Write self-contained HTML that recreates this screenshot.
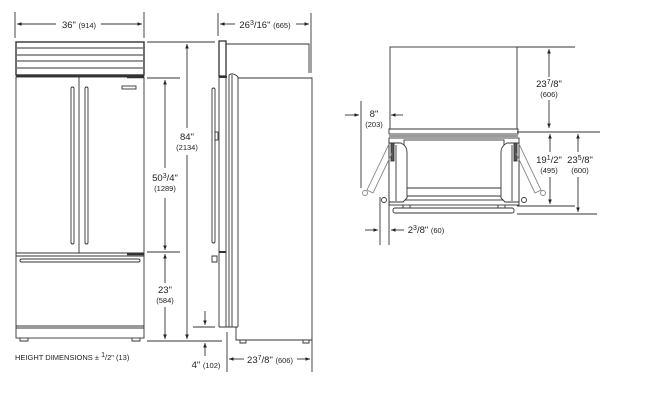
<!DOCTYPE html>
<html><head><style>
html,body{margin:0;padding:0;background:#fff;}
svg{display:block;}
text{font-family:"Liberation Sans",Arial,sans-serif;fill:#222;}
</style></head><body>
<svg width="650" height="400" viewBox="0 0 650 400" xmlns="http://www.w3.org/2000/svg">
<defs>
<marker id="a" viewBox="0 0 10 10" refX="10" refY="5" markerWidth="5" markerHeight="5" orient="auto-start-reverse"><path d="M0,1 L10,5 L0,9 z" fill="#222"/></marker>
</defs>
<g stroke="#333" stroke-width="0.9" fill="none">
<!-- FRONT VIEW -->
<line x1="15" y1="12" x2="15" y2="38"/><line x1="144" y1="12" x2="144" y2="38"/>
<line x1="17" y1="24" x2="56" y2="24" marker-start="url(#a)"/><line x1="101" y1="24" x2="142" y2="24" marker-end="url(#a)"/>
<rect x="16" y="42" width="128" height="33" stroke-width="1.4"/>
<line x1="17" y1="48" x2="143" y2="48"/><line x1="17" y1="55" x2="143" y2="55"/><line x1="17" y1="61" x2="143" y2="61"/><line x1="17" y1="68" x2="143" y2="68"/>
<line x1="16" y1="76" x2="144" y2="76" stroke-width="2"/>
<rect x="16" y="77" width="128" height="261"/>
<line x1="79" y1="77" x2="79" y2="253"/>
<line x1="16" y1="253" x2="144" y2="253"/><line x1="16" y1="256" x2="144" y2="256"/>
<line x1="127" y1="254" x2="144" y2="254" stroke-width="2.5"/>
<rect x="71" y="87" width="3" height="157" rx="1.5"/><rect x="85" y="87" width="3" height="157" rx="1.5"/>
<rect x="122" y="86" width="14" height="3"/>
<line x1="127" y1="77" x2="144" y2="77" stroke-width="2.5"/>
<rect x="20" y="259" width="120" height="3" rx="1.5"/>
<line x1="16" y1="326" x2="144" y2="326"/><line x1="16" y1="328" x2="144" y2="328"/>
<path d="M20,338 v3 h8 v-3 M132,338 v3 h8 v-3"/>
<!-- height dims -->
<line x1="147" y1="42" x2="215" y2="42"/><line x1="147" y1="78" x2="180" y2="78"/>
<line x1="147" y1="252" x2="180" y2="252"/><line x1="147" y1="341" x2="222" y2="341"/>
<line x1="187" y1="44" x2="187" y2="128" marker-start="url(#a)"/><line x1="187" y1="155" x2="187" y2="339" marker-end="url(#a)"/>
<line x1="165" y1="80" x2="165" y2="168" marker-start="url(#a)"/><line x1="165" y1="198" x2="165" y2="250" marker-end="url(#a)"/>
<line x1="165" y1="254" x2="165" y2="283" marker-start="url(#a)"/><line x1="165" y1="307" x2="165" y2="339" marker-end="url(#a)"/>
<!-- 4" -->
<line x1="193" y1="327" x2="215" y2="327"/>
<line x1="205" y1="311" x2="205" y2="325" marker-end="url(#a)"/>
<line x1="205" y1="356" x2="205" y2="343" marker-end="url(#a)"/>
<!-- SIDE VIEW -->
<line x1="218" y1="13" x2="218" y2="36"/><line x1="311" y1="13" x2="311" y2="73"/>
<line x1="220" y1="24" x2="235" y2="24" marker-start="url(#a)"/><line x1="296" y1="24" x2="309" y2="24" marker-end="url(#a)"/>
<rect x="219" y="41" width="7" height="35" stroke-width="1.3"/>
<path d="M226,44 H309 V73"/>
<line x1="219" y1="77" x2="227" y2="77" stroke-width="2"/>
<line x1="226" y1="77" x2="226" y2="327"/><line x1="229" y1="75" x2="229" y2="327"/><line x1="232" y1="75" x2="232" y2="327"/>
<path d="M229,75 Q233,72 238,77 V327"/>
<path d="M238,78 H312 V340 H236 V327"/>
<line x1="219" y1="327" x2="238" y2="327"/>
<line x1="219" y1="76" x2="219" y2="327"/>
<rect x="212" y="88" width="3" height="155" rx="1.5"/>
<rect x="215" y="132" width="3" height="8"/>
<path d="M212,256 h5 v6 h-5 z"/>
<line x1="219" y1="252" x2="226" y2="252" stroke-width="2"/>
<path d="M240,340 v3 h6 v-3 M303,340 v3 h6 v-3"/>
<line x1="227" y1="332" x2="227" y2="372"/><line x1="312" y1="340" x2="312" y2="372"/>
<line x1="229" y1="359" x2="244" y2="359" marker-start="url(#a)"/><line x1="297" y1="359" x2="310" y2="359" marker-end="url(#a)"/>
<!-- PLAN VIEW -->
<rect x="390" y="47" width="127" height="82"/>
<rect x="389" y="129" width="129" height="5"/>
<line x1="389" y1="136" x2="518" y2="136"/>
<rect x="389" y="138" width="130" height="67"/>
<rect x="404" y="140" width="100" height="60"/>
<line x1="404" y1="188" x2="504" y2="188"/><line x1="404" y1="196" x2="504" y2="196"/>
<path d="M389,143 h12 Q407,146 407,152 V198 L403,202 H389 z" fill="#fff"/>
<path d="M519,143 h-12 Q501,146 501,152 V198 L505,202 H519 z" fill="#fff"/>
<line x1="396" y1="145" x2="396" y2="201"/><line x1="512" y1="145" x2="512" y2="201"/>
<rect x="391" y="143" width="3" height="18" fill="#555"/><rect x="514" y="143" width="3" height="18" fill="#555"/>
<rect x="393" y="208" width="121" height="5" rx="2"/>
<path d="M403,205 v3 M410,205 v3 M498,205 v3 M505,205 v3"/>
<path d="M389,144 L367,190 L373,193 L392,153" stroke="#888"/>
<path d="M519,144 L541,190 L535,193 L516,153" stroke="#888"/>
<circle cx="365" cy="193" r="2.5" stroke="#888"/><circle cx="543" cy="193" r="2.5" stroke="#888"/>
<circle cx="384" cy="200" r="2.5"/><circle cx="524" cy="200" r="2.5"/>
<!-- plan dims -->
<line x1="517" y1="47" x2="575" y2="47"/><line x1="517" y1="132" x2="600" y2="132"/>
<line x1="517" y1="206" x2="575" y2="206"/><line x1="517" y1="214" x2="597" y2="214"/>
<line x1="549" y1="49" x2="549" y2="77" marker-start="url(#a)"/><line x1="549" y1="100" x2="549" y2="128" marker-end="url(#a)"/>
<line x1="550" y1="134" x2="550" y2="152" marker-start="url(#a)"/><line x1="550" y1="177" x2="550" y2="204" marker-end="url(#a)"/>
<line x1="578" y1="134" x2="578" y2="152" marker-start="url(#a)"/><line x1="578" y1="177" x2="578" y2="212" marker-end="url(#a)"/>
<line x1="361" y1="101" x2="361" y2="188"/>
<line x1="345" y1="115" x2="359" y2="115" marker-end="url(#a)"/>
<line x1="403" y1="115" x2="391" y2="115" marker-end="url(#a)"/>
<line x1="380" y1="197" x2="380" y2="245"/><line x1="389" y1="196" x2="389" y2="245"/>
<line x1="365" y1="230" x2="378" y2="230" marker-end="url(#a)"/>
<line x1="404" y1="230" x2="391" y2="230" marker-end="url(#a)"/>
</g>
<g font-size="9.5" text-anchor="middle">
<text x="79" y="28">36" <tspan font-size="7.5">(914)</tspan></text>
<text x="265" y="28">26<tspan font-size="7" dy="-3">3</tspan><tspan dy="3">/16"</tspan> <tspan font-size="7.5">(665)</tspan></text>
<text x="187" y="140">84"</text><text x="187" y="150" font-size="7.5">(2134)</text>
<text x="165" y="181">50<tspan font-size="7" dy="-3">3</tspan><tspan dy="3">/4"</tspan></text><text x="165" y="191" font-size="7.5">(1289)</text>
<text x="165" y="293">23"</text><text x="165" y="303" font-size="7.5">(584)</text>
<text x="206" y="368">4" <tspan font-size="7.5">(102)</tspan></text>
<text x="270" y="363">23<tspan font-size="7" dy="-3">7</tspan><tspan dy="3">/8"</tspan> <tspan font-size="7.5">(606)</tspan></text>
<text x="549" y="87">23<tspan font-size="7" dy="-3">7</tspan><tspan dy="3">/8"</tspan></text><text x="549" y="97" font-size="7.5">(606)</text>
<text x="549" y="163">19<tspan font-size="7" dy="-3">1</tspan><tspan dy="3">/2"</tspan></text><text x="549" y="173" font-size="7.5">(495)</text>
<text x="580" y="163">23<tspan font-size="7" dy="-3">5</tspan><tspan dy="3">/8"</tspan></text><text x="580" y="173" font-size="7.5">(600)</text>
<text x="374" y="117">8"</text><text x="374" y="127" font-size="7.5">(203)</text>
<text x="426" y="233">2<tspan font-size="7" dy="-3">3</tspan><tspan dy="3">/8"</tspan> <tspan font-size="7.5">(60)</tspan></text>
<text x="15" y="360" font-size="7.5" text-anchor="start">HEIGHT DIMENSIONS ± <tspan font-size="7" dy="-3">1</tspan><tspan dy="3">/2"</tspan> (13)</text>
</g>
</svg>
</body></html>
